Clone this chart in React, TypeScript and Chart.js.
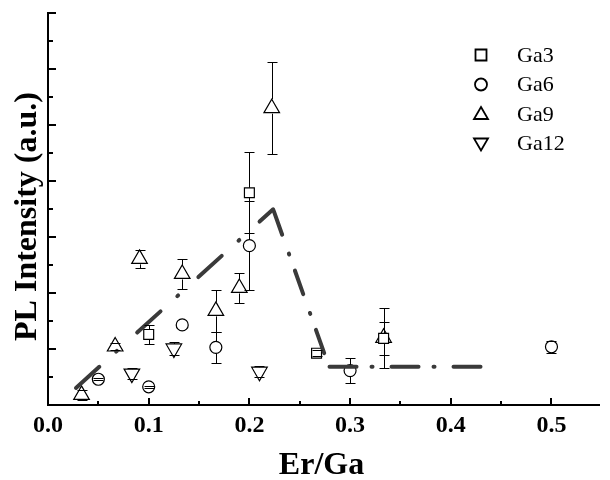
import React, { useEffect, useRef } from 'react';
import { Chart, registerables } from 'chart.js';

Chart.register(...registerables);

// ---- axis ticks ----
const xTicks = [0, 0.1, 0.2, 0.3, 0.4, 0.5];
const xMinorTicks = [0.05, 0.15, 0.25, 0.35, 0.45];
const yTicks = [0, 1, 2, 3, 4, 5, 6, 7, 8, 9, 10, 11, 12, 13, 14];

// ---- series (Er/Ga, PL intensity, error) ----
const seriesNames = ['Ga3', 'Ga6', 'Ga9', 'Ga12'];

const ga3X = [0.1, 0.2, 0.2667, 0.3333];
const ga3Y = [2.52, 7.58, 1.85, 2.38];
const ga3Err = [0.33, 1.44, 0.1, 0.6];

const ga6X = [0.05, 0.1, 0.1333, 0.1667, 0.2, 0.3, 0.5];
const ga6Y = [0.92, 0.65, 2.86, 2.06, 5.69, 1.23, 2.08];
const ga6Err = [0.04, 0.04, 0, 0.55, 1.6, 0.45, 0.22];

const ga9X = [0.0333, 0.0667, 0.0909, 0.1333, 0.1667, 0.19, 0.2222, 0.3333];
const ga9Y = [0.36, 2.09, 5.22, 4.68, 3.36, 4.18, 10.6, 2.4];
const ga9Err = [0.18, 0.12, 0.33, 0.54, 0.74, 0.54, 1.64, 1.07];

const ga12X = [0.0833, 0.125, 0.21];
const ga12Y = [1.12, 2.02, 1.19];
const ga12Err = [0.2, 0.22, 0.2];

// ---- dash-dot guide line ----
const riseX = [0.0263, 0.2236];
const riseY = [0.56, 6.99];
const fallX = [0.2236, 0.2743];
const fallY = [6.99, 1.85];
const flatX = [0.2776, 0.4434];
const flatY = [1.365, 1.365];

const toPts = (xs: number[], ys: number[]) => xs.map((x, i) => ({ x, y: ys[i] }));

const SERIF = '"Liberation Serif", "Times New Roman", serif';

const errorBarPlugin = {
  id: 'errorBars',
  afterDatasetsDraw(chart: any) {
    const ctx = chart.ctx;
    const yScale = chart.scales.y;
    chart.data.datasets.forEach((ds: any, i: number) => {
      if (!ds.errors) return;
      const meta = chart.getDatasetMeta(i);
      ctx.save();
      ctx.strokeStyle = '#000';
      ctx.lineWidth = 1;
      meta.data.forEach((el: any, j: number) => {
        const err = ds.errors[j];
        if (!err || err <= 0) return;
        const v = ds.data[j].y;
        const x = Math.round(el.x) + 0.5;
        const yc = el.y;
        const yt = Math.round(yScale.getPixelForValue(v + err)) + 0.5;
        const yb = Math.round(yScale.getPixelForValue(v - err)) + 0.5;
        ctx.beginPath();
        if (yc - ds.gapTop > yt) {
          ctx.moveTo(x, yt);
          ctx.lineTo(x, yc - ds.gapTop);
        }
        if (yc + ds.gapBottom < yb) {
          ctx.moveTo(x, yc + ds.gapBottom);
          ctx.lineTo(x, yb);
        }
        ctx.moveTo(x - 5, yt);
        ctx.lineTo(x + 5, yt);
        ctx.moveTo(x - 5, yb);
        ctx.lineTo(x + 5, yb);
        ctx.stroke();
      });
      ctx.restore();
    });
  },
};

const decorPlugin = {
  id: 'decor',
  afterDraw(chart: any) {
    const ctx = chart.ctx;
    const xs = chart.scales.x;
    const ys = chart.scales.y;
    const area = chart.chartArea;
    ctx.save();
    ctx.strokeStyle = '#000';
    ctx.lineWidth = 2;
    ctx.beginPath();
    // inward ticks on x axis
    xTicks.forEach((v) => {
      if (v === 0) return;
      const px = Math.round(xs.getPixelForValue(v));
      ctx.moveTo(px, area.bottom);
      ctx.lineTo(px, area.bottom - 7);
    });
    xMinorTicks.forEach((v) => {
      const px = Math.round(xs.getPixelForValue(v));
      ctx.moveTo(px, area.bottom);
      ctx.lineTo(px, area.bottom - 4);
    });
    // inward ticks on y axis
    yTicks.forEach((v) => {
      if (v === 0) return;
      const py = Math.round(ys.getPixelForValue(v));
      const len = v % 2 === 0 ? 8 : 5;
      ctx.moveTo(area.left, py);
      ctx.lineTo(area.left + len, py);
    });
    ctx.stroke();

    // axis titles
    ctx.fillStyle = '#000';
    ctx.font = `bold 32px ${SERIF}`;
    ctx.textAlign = 'center';
    ctx.textBaseline = 'middle';
    ctx.fillText('Er/Ga', 321.5, 466);
    ctx.save();
    ctx.translate(28, 216.5);
    ctx.rotate(-Math.PI / 2);
    ctx.fillText('PL Intensity (a.u.)', 0, 0);
    ctx.restore();

    // legend
    const mx = 481;
    const rows = [55, 84.5, 114, 143.5];
    ctx.lineWidth = 1.8;
    ctx.strokeStyle = '#000';
    rows.forEach((ry, i) => {
      ctx.beginPath();
      if (i === 0) {
        ctx.rect(mx - 5.5, ry - 5.5, 11, 11);
      } else if (i === 1) {
        ctx.arc(mx, ry, 6, 0, Math.PI * 2);
      } else if (i === 2) {
        ctx.moveTo(mx, ry - 7);
        ctx.lineTo(mx + 7, ry + 5);
        ctx.lineTo(mx - 7, ry + 5);
        ctx.closePath();
      } else {
        ctx.moveTo(mx - 7, ry - 5);
        ctx.lineTo(mx + 7, ry - 5);
        ctx.lineTo(mx, ry + 7);
        ctx.closePath();
      }
      ctx.stroke();
      ctx.font = `22px ${SERIF}`;
      ctx.textAlign = 'left';
      ctx.textBaseline = 'middle';
      ctx.fillText(seriesNames[i], 517, ry + 1);
    });
    ctx.restore();
  },
};

const guideStyle = {
  type: 'scatter',
  showLine: true,
  pointRadius: 0,
  borderColor: '#3a3a3a',
  borderWidth: 4,
  borderCapStyle: 'round',
  borderJoinStyle: 'round',
  fill: false,
  tension: 0,
};

const markerStyle = {
  backgroundColor: '#ffffff',
  borderColor: '#000000',
  borderWidth: 1.2,
  showLine: false,
};

export default function App() {
  const ref = useRef<HTMLCanvasElement | null>(null);

  useEffect(() => {
    if (!ref.current) return;
    const chart = new Chart(ref.current, {
      type: 'scatter',
      data: {
        datasets: [
          { ...guideStyle, label: 'guide-rise', data: toPts(riseX, riseY), borderDash: [31.5, 22.7, 1, 27.4], borderDashOffset: -2 } as any,
          { ...guideStyle, label: 'guide-fall', data: toPts(fallX, fallY), borderDash: [25, 20, 1, 17], borderDashOffset: -2 } as any,
          { ...guideStyle, label: 'guide-flat', data: toPts(flatX, flatY), borderDash: [27, 15, 1, 19], borderDashOffset: -2 } as any,
          { ...markerStyle, label: seriesNames[0], data: toPts(ga3X, ga3Y), pointStyle: 'rect', pointRadius: 7, errors: ga3Err, gapTop: 5, gapBottom: 5 } as any,
          { ...markerStyle, label: seriesNames[1], data: toPts(ga6X, ga6Y), pointStyle: 'circle', pointRadius: 6, errors: ga6Err, gapTop: 6, gapBottom: 6 } as any,
          { ...markerStyle, label: seriesNames[2], data: toPts(ga9X, ga9Y), pointStyle: 'triangle', pointRadius: 9, errors: ga9Err, gapTop: 9, gapBottom: 5.5 } as any,
          { ...markerStyle, label: seriesNames[3], data: toPts(ga12X, ga12Y), pointStyle: 'triangle', pointRotation: 180, pointRadius: 9, errors: ga12Err, gapTop: 4.5, gapBottom: 9 } as any,
        ],
      },
      options: {
        responsive: false,
        animation: false,
        events: [],
        devicePixelRatio: 1,
        layout: { padding: { top: 13, left: 0, right: 0, bottom: 0 } },
        plugins: {
          legend: { display: false },
          tooltip: { enabled: false },
        },
        scales: {
          x: {
            type: 'linear',
            min: 0,
            max: 0.548,
            afterBuildTicks: (s: any) => {
              s.ticks = xTicks.map((v) => ({ value: v }));
            },
            afterFit: (s: any) => {
              s.height = 75;
            },
            ticks: {
              autoSkip: false,
              maxRotation: 0,
              padding: 6,
              color: '#000',
              font: { family: SERIF, size: 24, weight: 'bold' },
              callback: (v: any) => Number(v).toFixed(1),
            },
            grid: { display: false, drawTicks: false },
            border: { display: true, color: '#000', width: 2 },
          },
          y: {
            type: 'linear',
            min: 0,
            max: 14,
            afterBuildTicks: (s: any) => {
              s.ticks = yTicks.map((v) => ({ value: v }));
            },
            afterFit: (s: any) => {
              s.width = 48;
            },
            ticks: { display: false },
            grid: { display: false, drawTicks: false },
            border: { display: true, color: '#000', width: 2 },
          },
        },
      } as any,
      plugins: [errorBarPlugin, decorPlugin],
    });
    return () => chart.destroy();
  }, []);

  return (
    <div style={{ position: 'fixed', left: 0, top: 0, width: 610, height: 480, background: '#fff' }}>
      <canvas ref={ref} width={610} height={480} style={{ display: 'block' }} />
    </div>
  );
}
